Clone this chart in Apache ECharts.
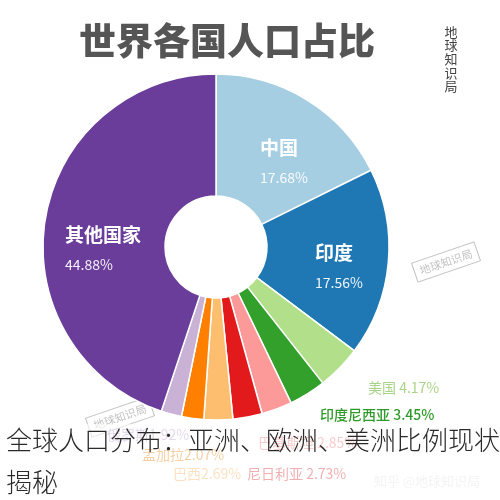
<!DOCTYPE html>
<html><head><meta charset="utf-8">
<script src="https://cdn.jsdelivr.net/npm/echarts@6/dist/echarts.min.js"></script>
<style>html,body{margin:0;padding:0;background:#fff}#c{width:500px;height:500px}</style>
</head><body><div id="c"></div>
<script>
var countries = ['中国','印度','美国','印度尼西亚','巴基斯坦','尼日利亚','巴西','孟加拉','俄罗斯','其他国家'];
var shares = [17.68, 17.56, 4.17, 3.45, 2.85, 2.73, 2.69, 2.07, 1.92, 44.88];
var separators = ['\n','\n',' ',' ',' ',' ','','','','\n'];
var colors = ['#a6cee3','#1f78b4','#b2df8a','#33a02c','#fb9a99','#e31a1c','#fdbf6f','#ff7f00','#cab2d6','#6a3d9a'];
var labelColors = ['#fff','#fff','#a9d487','#2f9a2a','#f08080','#d9363a','#f5b566','#e88a20','#b9a0cc','#fff'];
// label anchor positions (left x, y) and vertical anchor
var labelPos = [[260,137,'top'],[315,242,'top'],[368,388,'middle'],[320,415,'middle'],[258,443,'middle'],[247,474,'middle'],[173,474,'middle'],[142,455,'middle'],[107,435,'middle'],[65,224,'top']];
var FONT = '"Noto Sans CJK SC","Noto Sans",sans-serif';

var data = countries.map(function(n,i){
  var big = separators[i] === '\n';
  return {
    name: n, value: shares[i],
    itemStyle: {color: colors[i]},
    label: big ? {
      position: 'inside',
      formatter: '{n|{b}}\n{p|{c}%}',
      rich: {
        n: {fontSize: 19, fontWeight: 'bold', color: '#fff', lineHeight: 22, fontFamily: FONT},
        p: {fontSize: 14, color: 'rgba(255,255,255,0.92)', lineHeight: 38, fontFamily: FONT}
      }
    } : {
      position: 'outside',
      formatter: '{b}' + separators[i] + '{c}%',
      color: labelColors[i], fontSize: 14, fontFamily: FONT,
      fontWeight: i === 3 ? 500 : 'normal'
    },
    labelLine: {show: false}
  };
});

function stamp(x, y, col, op) {
  return {type: 'group', x: x, y: y, rotation: 0.33, z: 50, children: [
    {type: 'rect', shape: {x: -33, y: -10, width: 66, height: 20}, style: {fill: 'none', stroke: col, lineWidth: 1, opacity: op}},
    {type: 'text', style: {text: '地球知识局', x: 0, y: 0, align: 'center', verticalAlign: 'middle', fontSize: 11, fill: col, opacity: op, fontFamily: FONT}}
  ]};
}

var chart = echarts.init(document.getElementById('c'));
chart.setOption({
  backgroundColor: '#fff',
  animation: false,
  series: [{
    type: 'pie',
    center: [216, 247],
    radius: [51, 173],
    startAngle: 90,
    clockwise: true,
    avoidLabelOverlap: false,
    itemStyle: {borderColor: '#fff', borderWidth: 1.5},
    emphasis: {disabled: true},
    data: data,
    labelLayout: function (p) {
      var lp = labelPos[p.dataIndex];
      return {x: lp[0], y: lp[1], align: 'left', verticalAlign: lp[2]};
    }
  }],
  graphic: [
    {type: 'text', z: 50, style: {text: '世界各国人口占比', x: 227, y: 41, align: 'center', verticalAlign: 'middle', fontSize: 37, fontWeight: 900, fill: '#555', fontFamily: FONT}},
    {type: 'text', z: 50, style: {text: '地\n球\n知\n识\n局', x: 451, y: 25, align: 'center', verticalAlign: 'top', fontSize: 13, lineHeight: 13.6, fill: '#444', fontFamily: FONT}},
    stamp(126, 136, '#4e2a7c', 0.7),
    stamp(446, 262, '#999', 0.6),
    stamp(120, 417, '#999', 0.6),
    {type: 'text', z: 50, style: {text: '知乎 @地球知识局', x: 427, y: 481, align: 'center', verticalAlign: 'middle', fontSize: 13, fill: '#e3e3e3', fontFamily: FONT}},
    {type: 'rect', z: 60, shape: {x: 0, y: 424, width: 500, height: 76}, style: {fill: 'rgba(255,255,255,0.6)'}},
    {type: 'text', z: 70, style: {text: '全球人口分布：亚洲、欧洲、美洲比例现状', x: 6, y: 440, align: 'left', verticalAlign: 'middle', fontSize: 26, fontWeight: 300, fill: '#2a2a2a', fontFamily: FONT}},
    {type: 'text', z: 70, style: {text: '揭秘', x: 6, y: 482, align: 'left', verticalAlign: 'middle', fontSize: 26, fontWeight: 300, fill: '#2a2a2a', fontFamily: FONT}}
  ]
});
</script></body></html>
